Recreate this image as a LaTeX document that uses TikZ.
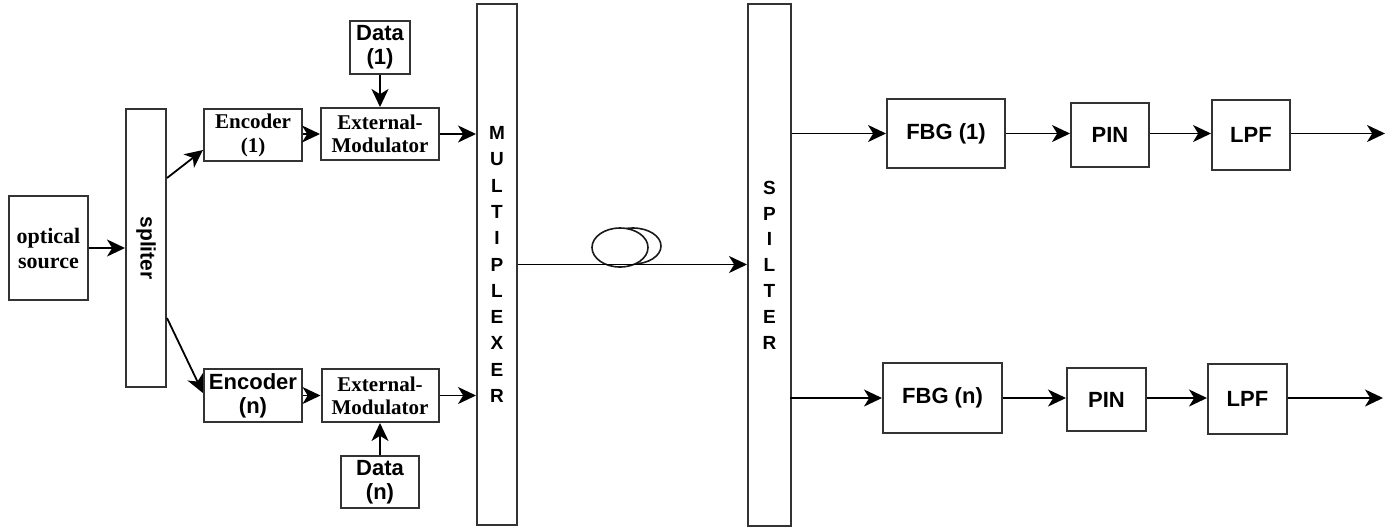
\documentclass[tikz,border=0pt]{standalone}
\usepackage{fontspec}
\setmainfont{Liberation Serif}
\setsansfont{Liberation Sans}
\usetikzlibrary{arrows.meta,calc}
\begin{document}
\begin{tikzpicture}[x=0.5pt,y=-0.5pt,
  box/.style={draw=black!80, line width=1pt, inner sep=0pt, align=center,
    font=\sffamily\bfseries\fontsize{11}{12}\selectfont},
  serifbox/.style={box, font=\rmfamily\bfseries\fontsize{10.5}{11.5}\selectfont},
  vbox/.style={box, font=\sffamily\bfseries\fontsize{9.5}{13.15}\selectfont},
  conn/.style={line width=0.9pt, draw=black, -{Stealth[length=9pt,width=8.5pt,inset=2.6pt]}},
  coil/.style={line width=0.8pt, draw=black!90}
  ]
\useasboundingbox (0,0) rectangle (1400,531);

% transmitter side
\node[serifbox, minimum width=39.5pt, minimum height=52pt, font=\rmfamily\bfseries\fontsize{11}{12.5}\selectfont] (src) at (48.5,248) {optical\\source};
\node[box, minimum width=20pt, minimum height=139pt] (spl) at (146,248) {};
\node[font=\sffamily\bfseries\fontsize{10.5}{12}\selectfont, rotate=-90, inner sep=0pt] (spllabel) at (146,248) {spliter};

\node[serifbox, minimum width=49pt, minimum height=26pt, font=\rmfamily\bfseries\fontsize{10.5}{12}\selectfont] (enc1) at (253,135) {Encoder\\(1)};
\node[box, minimum width=49pt, minimum height=26.5pt] (encn) at (253,395.5) {Encoder\\(n)};

\node[serifbox, minimum width=59pt, minimum height=26pt] (ext1) at (380,134) {External-\\Modulator};
\node[serifbox, minimum width=58.5pt, minimum height=26.5pt] (extn) at (380,395.5) {External-\\Modulator};

\node[box, minimum width=30pt, minimum height=26.5pt] (data1) at (380,47.5) {Data\\(1)};
\node[box, minimum width=39pt, minimum height=26pt] (datan) at (380,482) {Data\\(n)};

\node[vbox, minimum width=20pt, minimum height=260.5pt] (mux) at (497,264.5)
  {M\\U\\L\\T\\I\\P\\L\\E\\X\\E\\R};

% receiver side
\node[vbox, minimum width=21.5pt, minimum height=261pt, font=\sffamily\bfseries\fontsize{9.5}{12.9}\selectfont] (spl2) at (769.5,265)
  {S\\P\\I\\L\\T\\E\\R};

\node[box, minimum width=59pt, minimum height=34.5pt] (fbg1) at (946,133.5) {FBG (1)};
\node[box, minimum width=39pt, minimum height=32pt] (pin1) at (1110,135) {PIN};
\node[box, minimum width=39pt, minimum height=35pt] (lpf1) at (1251,135) {LPF};
\coordinate (out1) at (1385,133.5);

\node[box, minimum width=59.5pt, minimum height=35pt] (fbgn) at (942.5,398) {FBG (n)};
\node[box, minimum width=39.5pt, minimum height=31.5pt] (pinn) at (1106.5,399.5) {PIN};
\node[box, minimum width=39.5pt, minimum height=35pt] (lpfn) at (1247.5,399) {LPF};
\coordinate (outn) at (1383,398);

% connectors
\draw[conn] (src.east |- spl.west) -- (spl.west);
\draw[conn] ([yshift=35pt]spl.east) -- ([yshift=-7.5pt]enc1.west);
\draw[conn] ([yshift=-35pt]spl.east) -- ([yshift=1.2pt]encn.west);

\draw[conn] (enc1.east |- ext1.west) -- (ext1.west);
\draw[conn] (encn.east |- extn.west) -- (extn.west);
\draw[conn] (data1.south) -- (ext1.north);
\draw[conn] (datan.north) -- (extn.south);
\draw[conn] (ext1.east) -- (ext1.east -| mux.west);
\draw[conn] (extn.east) -- (extn.east -| mux.west);

% fibre coil
\draw[coil, fill=white] (633,246) ellipse [x radius=14pt, y radius=9pt];
\draw[coil, fill=white] (620,247.5) ellipse [x radius=14pt, y radius=9.75pt];
\draw[conn] (mux.east) -- (spl2.west |- mux.east);

\draw[conn] (spl2.east |- fbg1.west) -- (fbg1.west);
\draw[conn] ([xshift=-1pt]spl2.east |- fbgn.west) -- (fbgn.west);

\draw[conn] (fbg1.east) -- (fbg1.east -| pin1.west);
\draw[conn] (pin1.east |- fbg1.east) -- (fbg1.east -| lpf1.west);
\draw[conn] (lpf1.east |- out1) -- (out1);

\draw[conn] (fbgn.east) -- (fbgn.east -| pinn.west);
\draw[conn] (pinn.east |- fbgn.east) -- (fbgn.east -| lpfn.west);
\draw[conn] (lpfn.east |- outn) -- (outn);
\end{tikzpicture}
\end{document}
